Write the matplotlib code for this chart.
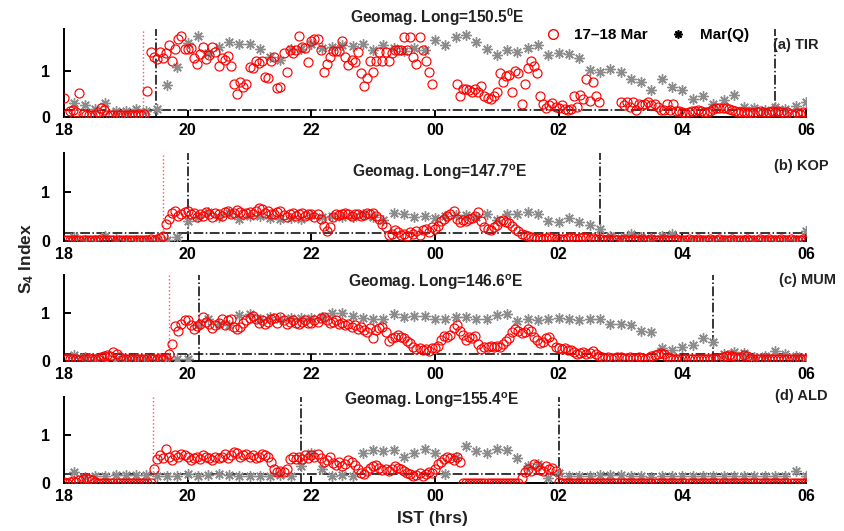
import numpy as np
import matplotlib
matplotlib.use('Agg')
import matplotlib.pyplot as plt
from matplotlib.lines import Line2D

plt.rcParams['font.family'] = ['Liberation Sans', 'DejaVu Sans']
plt.rcParams['font.weight'] = 'bold'
plt.rcParams['mathtext.fontset'] = 'custom'
plt.rcParams['mathtext.rm'] = 'Liberation Sans:bold'
plt.rcParams['mathtext.bf'] = 'Liberation Sans:bold'
plt.rcParams['mathtext.it'] = 'Liberation Sans:bold'

nan = np.nan
tick_pos = [18, 20, 22, 24, 26, 28, 30]
tick_labels = ['18', '20', '22', '00', '02', '04', '06']

stations = ['(a) TIR', '(b) KOP', '(c) MUM', '(d) ALD']
titles = [r'Geomag. Long=150.5$^{0}$E', r'Geomag. Long=147.7$^{\rm o}$E',
          r'Geomag. Long=146.6$^{\rm o}$E', r'Geomag. Long=155.4$^{\rm o}$E']

# ---- 17-18 Mar S4 (3-min samples, 18:00 -> 06:00 IST) ----
storm_tir = [
 0.40,0.07,0.13,0.16,0.11,0.52,0.06,0.04,0.04,0.04,0.05,0.10,0.20,0.15,0.05,0.04,0.04,0.04,0.04,0.04,
 0.04,0.05,0.04,0.05,0.06,0.05,0.07,0.56,1.41,1.30,1.25,1.41,1.27,1.39,1.56,1.20,1.46,1.68,1.74,1.46,
 1.46,1.48,1.28,1.14,1.35,1.52,1.25,1.34,1.52,1.40,1.10,1.28,1.22,1.32,1.10,0.72,0.50,0.75,0.65,0.72,
 1.08,1.05,1.20,1.17,1.20,0.87,0.85,1.20,1.30,0.62,0.64,1.38,0.97,1.45,1.38,1.45,1.75,1.52,1.48,1.18,
 1.65,1.68,1.68,1.45,0.98,1.15,1.30,1.42,1.42,1.42,1.65,1.30,1.13,1.23,1.18,1.40,0.95,0.68,0.85,1.20,
 0.97,1.20,1.40,1.20,1.40,1.20,1.38,1.45,1.45,1.45,1.72,1.45,1.72,1.30,1.15,1.72,1.45,1.20,0.98,0.72,
 nan,nan,nan,nan,nan,nan,nan,0.72,0.45,0.60,0.60,0.58,0.55,0.60,0.55,0.68,0.45,0.42,0.38,0.45,
 0.55,0.95,0.75,0.88,0.90,0.55,1.00,0.95,0.28,0.72,1.05,1.20,1.10,0.95,0.45,0.28,0.20,0.25,0.30,0.22,
 0.20,0.25,0.18,0.15,0.18,0.45,0.22,0.48,0.38,0.82,0.35,0.75,0.45,0.33,nan,nan,nan,nan,nan,nan,
 0.32,0.25,0.32,0.22,0.32,0.15,0.28,0.25,0.28,0.32,0.25,0.28,0.22,0.15,0.15,0.28,0.15,0.28,0.12,0.12,
 0.10,0.08,0.10,0.12,0.14,0.15,0.12,0.10,0.10,0.13,0.17,0.20,0.20,0.20,0.20,0.18,0.15,0.12,0.10,0.10,
 0.10,0.08,0.10,0.08,0.10,0.12,0.10,0.08,0.10,0.12,0.10,0.12,0.10,0.08,0.10,0.06,0.05,0.08,0.06,0.10,
 0.08]

storm_kop = [
 0.03,0.02,0.03,0.03,0.02,0.03,0.03,0.02,0.03,0.03,0.02,0.03,0.04,0.03,0.03,0.02,0.03,0.03,0.02,0.03,
 0.03,0.03,0.02,0.03,0.03,0.02,0.03,0.03,0.04,0.03,0.05,0.06,0.10,0.35,0.45,0.58,0.62,0.52,0.55,0.60,
 0.62,0.55,0.58,0.50,0.56,0.52,0.60,0.55,0.50,0.58,0.55,0.52,0.60,0.62,0.55,0.58,0.63,0.60,0.55,0.57,
 0.60,0.55,0.62,0.68,0.65,0.58,0.62,0.56,0.55,0.60,0.62,0.54,0.50,0.55,0.57,0.52,0.55,0.58,0.52,0.55,
 0.55,0.50,0.55,0.45,0.30,0.20,0.28,0.50,0.55,0.53,0.56,0.58,0.55,0.52,0.56,0.55,0.52,0.54,0.58,0.55,
 0.58,0.52,0.45,0.35,0.28,0.12,0.15,0.22,0.18,0.12,0.15,0.10,0.18,0.15,0.20,0.12,0.22,0.25,0.18,0.28,
 0.25,0.30,0.40,0.45,0.52,0.55,0.62,0.45,0.38,0.42,0.40,0.45,0.48,0.52,0.60,0.40,0.28,0.25,0.22,0.28,
 0.32,0.40,0.42,0.38,0.36,0.30,0.25,0.20,0.15,0.12,0.10,0.08,0.07,0.06,0.06,0.05,0.07,0.08,0.06,0.05,
 0.05,0.04,0.05,0.06,0.08,0.06,0.05,0.07,0.08,0.06,0.05,0.06,0.05,0.04,0.04,0.03,0.04,0.03,0.04,0.03,
 0.03,0.04,0.03,0.03,0.04,0.03,0.03,0.04,0.03,0.03,0.04,0.03,0.03,0.03,0.04,0.03,0.03,0.03,0.04,0.03,
 0.03,0.03,0.04,0.03,0.03,0.04,0.03,0.03,0.03,0.04,0.03,0.03,0.04,0.03,0.03,0.03,0.04,0.03,0.03,0.03,
 0.03,0.04,0.03,0.03,0.03,0.04,0.03,0.03,0.04,0.03,0.03,0.03,0.04,0.03,0.03,0.04,0.03,0.03,0.03,0.04,
 0.03]

storm_mum = [
 0.05,0.04,0.05,0.04,0.05,0.03,0.05,0.04,0.06,0.05,0.04,0.05,0.08,0.10,0.12,0.10,0.18,0.15,0.08,0.05,
 0.05,0.04,0.05,0.04,0.05,0.04,0.05,0.04,0.05,0.04,0.05,0.06,0.05,0.06,0.15,0.36,0.73,0.63,0.78,0.85,
 0.86,0.75,0.68,0.73,0.78,0.92,0.82,0.78,0.70,0.75,0.80,0.88,0.75,0.85,0.88,0.72,0.68,0.72,0.80,0.85,
 0.90,0.95,0.88,0.80,0.85,0.78,0.82,0.88,0.90,0.80,0.92,0.85,0.78,0.82,0.85,0.80,0.78,0.82,0.85,0.80,
 0.80,0.85,0.82,0.90,0.92,0.85,0.80,0.82,0.85,0.78,0.80,0.75,0.78,0.72,0.75,0.68,0.72,0.65,0.60,0.70,
 0.48,0.65,0.70,0.72,0.60,0.42,0.48,0.50,0.55,0.50,0.48,0.42,0.38,0.30,0.25,0.28,0.22,0.25,0.20,0.28,
 0.28,0.32,0.45,0.52,0.50,0.55,0.70,0.75,0.62,0.55,0.45,0.50,0.48,0.52,0.35,0.25,0.30,0.30,0.32,0.30,
 0.32,0.30,0.35,0.42,0.48,0.60,0.68,0.62,0.58,0.60,0.68,0.62,0.50,0.45,0.38,0.40,0.48,0.50,0.40,0.30,
 0.28,0.25,0.27,0.22,0.22,0.18,0.15,0.17,0.18,0.15,0.16,0.20,0.15,0.10,0.08,0.07,0.08,0.06,0.07,0.08,
 0.08,0.07,0.06,0.08,0.07,0.06,0.08,0.06,0.05,0.07,0.10,0.12,0.15,0.16,0.14,0.08,0.06,0.05,0.05,0.04,
 0.04,0.04,0.05,0.04,0.04,0.05,0.04,0.05,0.04,0.05,0.06,0.05,0.06,0.08,0.10,0.12,0.10,0.08,0.06,0.08,
 0.12,0.10,0.05,0.04,0.05,0.04,0.05,0.04,0.05,0.04,0.05,0.04,0.05,0.04,0.05,0.04,0.05,0.04,0.05,0.04,
 0.04]

storm_ald = [
 0.02,0.01,0.03,0.05,0.02,0.06,0.08,0.10,0.08,0.06,0.02,0.01,0.01,0.01,0.01,0.01,0.01,0.01,0.01,0.01,
 0.01,0.01,0.01,0.01,0.01,0.01,0.01,0.01,0.01,0.30,0.50,0.58,0.52,0.72,0.55,0.48,0.58,0.55,0.60,0.58,
 0.55,0.48,0.52,0.55,0.50,0.58,0.55,0.52,0.48,0.55,0.52,0.55,0.60,0.52,0.58,0.65,0.62,0.55,0.58,0.60,
 0.55,0.58,0.52,0.55,0.60,0.58,0.55,0.45,0.30,0.22,0.25,0.22,0.30,0.50,0.55,0.50,0.55,0.50,0.58,0.52,
 0.58,0.55,0.60,0.52,0.45,0.48,0.55,0.42,0.38,0.45,0.35,0.40,0.48,0.45,0.38,0.30,0.20,0.18,0.25,0.32,
 0.35,0.38,0.32,0.28,0.30,0.25,0.30,0.35,0.32,0.30,0.25,0.20,0.18,0.15,0.17,0.20,0.15,0.18,0.22,0.20,
 0.30,0.40,0.45,0.50,0.55,0.52,0.48,0.55,0.45,0.00,0.00,0.00,0.00,0.00,0.00,0.00,0.00,0.00,0.00,0.00,
 0.00,0.00,0.00,0.00,0.00,0.00,0.00,0.00,0.10,0.22,0.30,0.25,0.40,0.35,0.28,0.25,0.35,0.30,0.32,0.25,
 0.02,0.00,0.00,0.00,0.00,0.00,0.00,0.00,0.00,0.00,0.00,0.00,0.00,0.00,0.00,0.00,0.00,0.00,0.00,0.00,
 0.00,0.00,0.00,0.00,0.00,0.00,0.00,0.00,0.00,0.00,0.00,0.00,0.00,0.00,0.00,0.00,0.00,0.00,0.00,0.00,
 0.00,0.00,0.00,0.00,0.00,0.00,0.00,0.00,0.00,0.00,0.00,0.00,0.00,0.00,0.00,0.00,0.00,0.00,0.00,0.00,
 0.00,0.00,0.00,0.00,0.00,0.00,0.00,0.00,0.00,0.00,0.00,0.00,0.00,0.00,0.00,0.00,0.00,0.00,0.00,0.00,
 0.00]

# ---- Mar quiet-day mean S4 (10-min samples, 18:10 -> 06:00 IST) ----
quiet_tir = [
 0.30,0.25,0.18,0.30,0.14,0.13,0.17,0.13,0.18,0.69,
 1.07,1.59,1.74,1.39,1.52,1.63,1.57,1.57,1.47,1.29,
 1.23,1.47,1.46,1.57,1.49,1.52,1.56,1.54,1.57,1.45,
 1.56,1.50,1.43,1.50,
 1.45,1.67,1.56,1.72,1.78,1.61,1.46,1.34,1.45,1.41,
 1.49,1.56,1.34,1.39,1.36,1.28,1.01,0.98,1.03,0.98,
 0.81,0.76,0.58,0.82,0.64,0.59,0.38,0.46,0.29,0.36,
 0.47,0.22,0.20,0.16,0.22,0.18,0.23,0.33]
quiet_kop = [
 0.09,0.03,0.03,0.10,0.05,0.03,0.03,0.03,0.03,0.02,
 0.09,0.40,0.50,0.60,0.50,0.58,0.45,0.52,0.52,0.48,
 0.45,0.48,0.46,0.54,0.50,0.52,0.50,0.50,0.55,0.50,
 0.43,0.57,0.55,0.50,
 0.52,0.48,0.52,0.54,0.54,0.50,0.55,0.43,0.55,0.55,
 0.59,0.55,0.41,0.38,0.47,0.38,0.32,0.24,0.10,0.07,
 0.14,0.09,0.07,0.10,0.14,0.02,0.02,0.02,0.02,0.02,
 0.02,0.02,0.02,0.02,0.02,0.02,0.02,0.20]
quiet_mum = [
 0.12,0.08,0.04,0.05,0.04,0.05,0.05,0.05,0.05,0.05,
 0.05,0.05,0.75,0.88,0.78,0.76,0.97,0.99,0.88,0.92,
 0.88,0.90,0.90,0.90,0.93,1.00,1.00,0.95,0.90,0.88,
 0.87,0.99,0.92,0.95,
 0.94,0.88,0.88,0.92,0.92,0.88,0.88,0.97,0.99,0.83,
 0.88,0.85,0.88,0.90,0.87,0.85,0.88,0.87,0.78,0.77,
 0.76,0.63,0.61,0.27,0.22,0.29,0.34,0.48,0.39,0.14,
 0.19,0.17,0.08,0.10,0.20,0.15,0.10,0.07]
quiet_ald = [
 0.22,0.12,0.14,0.14,0.16,0.16,0.16,0.16,0.14,0.14,
 0.14,0.19,0.14,0.16,0.19,0.16,0.14,0.14,0.14,0.14,
 0.16,0.14,0.36,0.62,0.30,0.14,0.16,0.14,0.62,0.70,
 0.68,0.70,0.55,0.62,
 0.71,0.62,0.19,0.55,0.78,0.67,0.62,0.71,0.69,0.52,
 0.35,0.40,0.10,0.20,0.14,0.14,0.15,0.17,0.17,0.17,
 0.14,0.14,0.12,0.14,0.14,0.15,0.14,0.14,0.15,0.14,
 0.15,0.14,0.15,0.14,0.14,0.14,0.26,0.14]

# event markers (IST hours, 24 = 00)
onset_red = [19.28, 19.60, 19.70, 19.44]
dashdot_left = [19.49, 20.00, 20.18, 21.83]
dashdot_right = [29.50, 26.67, 28.50, 26.00]
threshold = [0.15, 0.16, 0.15, 0.18]
ytop = [1.9, 1.8, 1.8, 1.8]

storm = [storm_tir, storm_kop, storm_mum, storm_ald]
quiet = [quiet_tir, quiet_kop, quiet_mum, quiet_ald]

W, H = 845, 531
fig = plt.figure(figsize=(W / 100, H / 100), dpi=100)
left = 64 / W
width = (806 - 64) / W
bottoms_px = [117, 241, 361, 483]
tops_px = [29, 153, 275, 397]
title_pos = [(437, 17), (440, 172), (436, 282), (432, 400)]
lab_pos = [(796, 45), (801, 166), (808, 280), (801, 396)]

gray = '#8c8c8c'
asterisk = (8, 2, 0)

for i in range(4):
    ax = fig.add_axes([left, 1 - bottoms_px[i] / H, width, (bottoms_px[i] - tops_px[i]) / H])
    s = np.array(storm[i], dtype=float)
    q = np.array(quiet[i], dtype=float)
    ts = 18 + np.arange(len(s)) * 0.05
    tq = 18 + np.arange(1, len(q) + 1) / 6.0
    ax.plot(tq, q, linestyle='none', marker=asterisk, markersize=7.5, mec=gray, mew=1.0, zorder=3)
    ax.plot(ts, s, linestyle='none', marker='o', markersize=6.5, mfc='none', mec='red', mew=0.85, zorder=4)
    ax.axhline(threshold[i], color='black', linestyle='-.', linewidth=1.1, zorder=2)
    ax.axvline(onset_red[i], color='#ff5555', linestyle=':', linewidth=1.0, zorder=2)
    ax.axvline(dashdot_left[i], color='black', linestyle='-.', linewidth=1.1, zorder=2)
    ax.axvline(dashdot_right[i], color='black', linestyle='-.', linewidth=1.1, zorder=2)
    ax.set_xlim(18, 30)
    ax.set_ylim(0, ytop[i])
    ax.set_xticks(tick_pos)
    ax.set_xticklabels(tick_labels)
    ax.set_yticks([0, 1])
    ax.set_yticklabels(['0', '1'])
    for sp in ['top', 'right']:
        ax.spines[sp].set_visible(False)
    for sp in ['left', 'bottom']:
        ax.spines[sp].set_linewidth(1.4)
    ax.tick_params(direction='in', length=5, width=1.4, labelsize=11.5)
    ax.tick_params(axis='x', pad=4)
    ax.tick_params(axis='y', pad=10)
    for lab in ax.get_xticklabels() + ax.get_yticklabels():
        lab.set_fontweight('bold')
    ax.patch.set_visible(False)
    fig.text(title_pos[i][0] / W, 1 - title_pos[i][1] / H, titles[i], ha='center', va='center',
             fontsize=11.2, fontweight='bold', color='#222222')
    fig.text(lab_pos[i][0] / W, 1 - lab_pos[i][1] / H, stations[i], ha='center', va='center',
             fontsize=10.5, fontweight='bold', color='#222222')

handles = [Line2D([], [], linestyle='none', marker='o', markersize=7, mfc='none', mec='red', mew=1.0),
           Line2D([], [], linestyle='none', marker=asterisk, markersize=6, mec='black', mew=1.2)]
fig.legend(handles, ['17\u201318 Mar', 'Mar(Q)'], loc='center', bbox_to_anchor=(643 / W, 1 - 35 / H),
           ncol=2, frameon=False, handletextpad=0.4, columnspacing=1.0,
           prop={'weight': 'bold', 'size': 11})

fig.text(27 / W, 1 - 258 / H, r'S$_{4}$ Index', rotation=90, ha='center', va='center',
         fontsize=12.5, fontweight='bold', color='#222222')
fig.text(432 / W, 1 - 519 / H, 'IST (hrs)', ha='center', va='center', fontsize=12.5,
         fontweight='bold', color='#222222')

fig.savefig('out.png', dpi=100)
